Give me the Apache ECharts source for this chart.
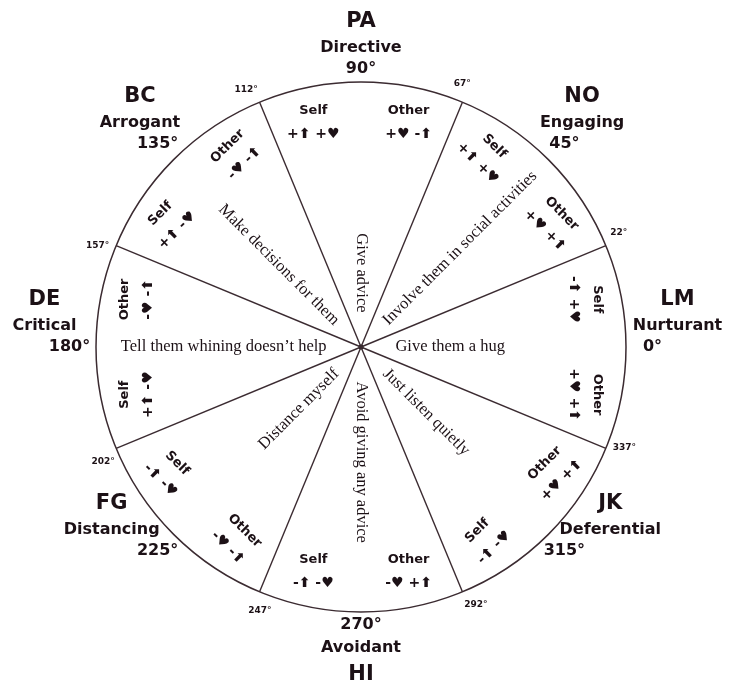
<!DOCTYPE html>
<html>
<head>
<meta charset="utf-8">
<script src="https://cdn.jsdelivr.net/npm/echarts@6/dist/echarts.min.js"></script>
<style>
  html, body { margin: 0; padding: 0; background: #fff; }
  #chart { width: 729px; height: 684px; }
</style>
</head>
<body>
<div id="chart"></div>
<script>
// octants, counter-clockwise angle of each sector centre
const sectorAngles = [90, 45, 0, 315, 270, 225, 180, 135];
const codes = ['PA', 'NO', 'LM', 'JK', 'HI', 'FG', 'DE', 'BC'];
const styles = ['Directive', 'Engaging', 'Nurturant', 'Deferential', 'Avoidant', 'Distancing', 'Critical', 'Arrogant'];
const degreeLabels = ['90°', '45°', '0°', '315°', '270°', '225°', '180°', '135°'];
const selfMarks = ['+⬆ +♥', '+⬆ +♥', '-⬆ +♥', '-⬆ -♥', '-⬆ -♥', '-⬆ -♥', '+⬆ -♥', '+⬆ -♥'];
const otherMarks = ['+♥ -⬆', '+♥ +⬆', '+♥ +⬆', '+♥ +⬆', '-♥ +⬆', '-♥ -⬆', '-♥ -⬆', '-♥ -⬆'];
const responses = ['Give advice', 'Involve them in social activities', 'Give them a hug', 'Just listen quietly',
  'Avoid giving any advice', 'Distance myself', 'Tell them whining doesn’t help', 'Make decisions for them'];

// sector borders
const boundaryAngles = [22.5, 67.5, 112.5, 157.5, 202.5, 247.5, 292.5, 337.5];
const boundaryLabels = ['22°', '67°', '112°', '157°', '202°', '247°', '292°', '337°'];

const ink = '#1c1116';
const lineColor = '#3b2b31';
const sans = 'DejaVu Sans';
const rad = d => d * Math.PI / 180;

const chart = echarts.init(document.getElementById('chart'));

// spokes from the centre to the rim
const spokeSeries = boundaryAngles.map(a => ({
  type: 'line',
  coordinateSystem: 'polar',
  silent: true,
  symbol: 'none',
  clip: false,
  lineStyle: { color: lineColor, width: 1.4 },
  data: [[0, a], [1, a]]
}));

function textSeries(data, label) {
  return {
    type: 'scatter',
    coordinateSystem: 'polar',
    silent: true,
    clip: false,
    symbolSize: 0,
    itemStyle: { opacity: 1 },
    label: Object.assign({ show: true, position: 'inside', color: ink, textBorderWidth: 0 }, label),
    data: data
  };
}

// degree marks at the spoke ends
const tickData = boundaryAngles.map((a, i) => ({
  value: [1.065, a + 1.5],
  label: { formatter: boundaryLabels[i] }
}));

// Self / Other blocks inside each sector
const blockData = [];
sectorAngles.forEach((c, i) => {
  const top = c <= 180;
  const rot = top ? c - 90 : c - 270;
  const d = top ? 12 : -12;
  blockData.push({ value: [0.865, c + d], label: { rotate: rot, formatter: '{w|Self}\n{m|' + selfMarks[i] + '}' } });
  blockData.push({ value: [0.865, c - d], label: { rotate: rot, formatter: '{w|Other}\n{m|' + otherMarks[i] + '}' } });
});

// responses along the sector bisectors
const phraseData = sectorAngles.map((c, i) => {
  const rot = ((c + 90) % 180) - 90;
  const outward = Math.cos(rad(rot)) * Math.cos(rad(c)) + Math.sin(rad(rot)) * Math.sin(rad(c)) > 0;
  return { value: [0.13, c], label: { rotate: rot, align: outward ? 'left' : 'right', formatter: responses[i] } };
});

// outer labels: degree, code and style name
const degData = sectorAngles.map((c, i) => ({
  value: [1.05 + 0.05 * Math.abs(Math.cos(rad(c))), c],
  label: { formatter: degreeLabels[i] }
}));
const nameData = sectorAngles.map((c, i) => {
  const s = Math.sin(rad(c));
  const pole = s < -0.99;
  const ox = Math.cos(rad(c)) * (s < -0.3 ? 65 : 25);
  return {
    value: [1.05 + 0.05 * Math.abs(Math.cos(rad(c))), c],
    label: {
      offset: [ox, pole ? 38 : -36],
      formatter: pole ? '{n|' + styles[i] + '}\n{c|' + codes[i] + '}' : '{c|' + codes[i] + '}\n{n|' + styles[i] + '}'
    }
  };
});

const option = {
  animation: false,
  polar: { center: [361, 347], radius: 265 },
  angleAxis: {
    type: 'value', min: 0, max: 360, startAngle: 0, clockwise: false,
    axisLine: { show: true, lineStyle: { color: lineColor, width: 1.5 } },
    axisTick: { show: false }, axisLabel: { show: false }, splitLine: { show: false }
  },
  radiusAxis: {
    type: 'value', min: 0, max: 1,
    axisLine: { show: false }, axisTick: { show: false }, axisLabel: { show: false }, splitLine: { show: false }
  },
  series: spokeSeries.concat([
    {
      type: 'scatter', coordinateSystem: 'polar', silent: true, symbolSize: 5,
      itemStyle: { color: '#111', opacity: 1 }, data: [[0, 0]]
    },
    textSeries(tickData, { fontFamily: sans, fontWeight: 'bold', fontSize: 9 }),
    textSeries(blockData, {
      fontFamily: sans, fontWeight: 'bold',
      rich: {
        w: { fontFamily: sans, fontWeight: 'bold', fontSize: 13, lineHeight: 24, color: ink },
        m: { fontFamily: sans, fontWeight: 'bold', fontSize: 14, lineHeight: 24, color: ink }
      }
    }),
    textSeries(phraseData, { fontFamily: 'Liberation Serif', fontSize: 16.5, verticalAlign: 'middle' }),
    textSeries(degData, { fontFamily: sans, fontWeight: 'bold', fontSize: 16 }),
    textSeries(nameData, {
      rich: {
        c: { fontFamily: sans, fontWeight: 'bold', fontSize: 21, lineHeight: 30, color: ink },
        n: { fontFamily: sans, fontWeight: 'bold', fontSize: 16, lineHeight: 22, color: ink }
      }
    })
  ])
};

chart.setOption(option);
</script>
</body>
</html>
